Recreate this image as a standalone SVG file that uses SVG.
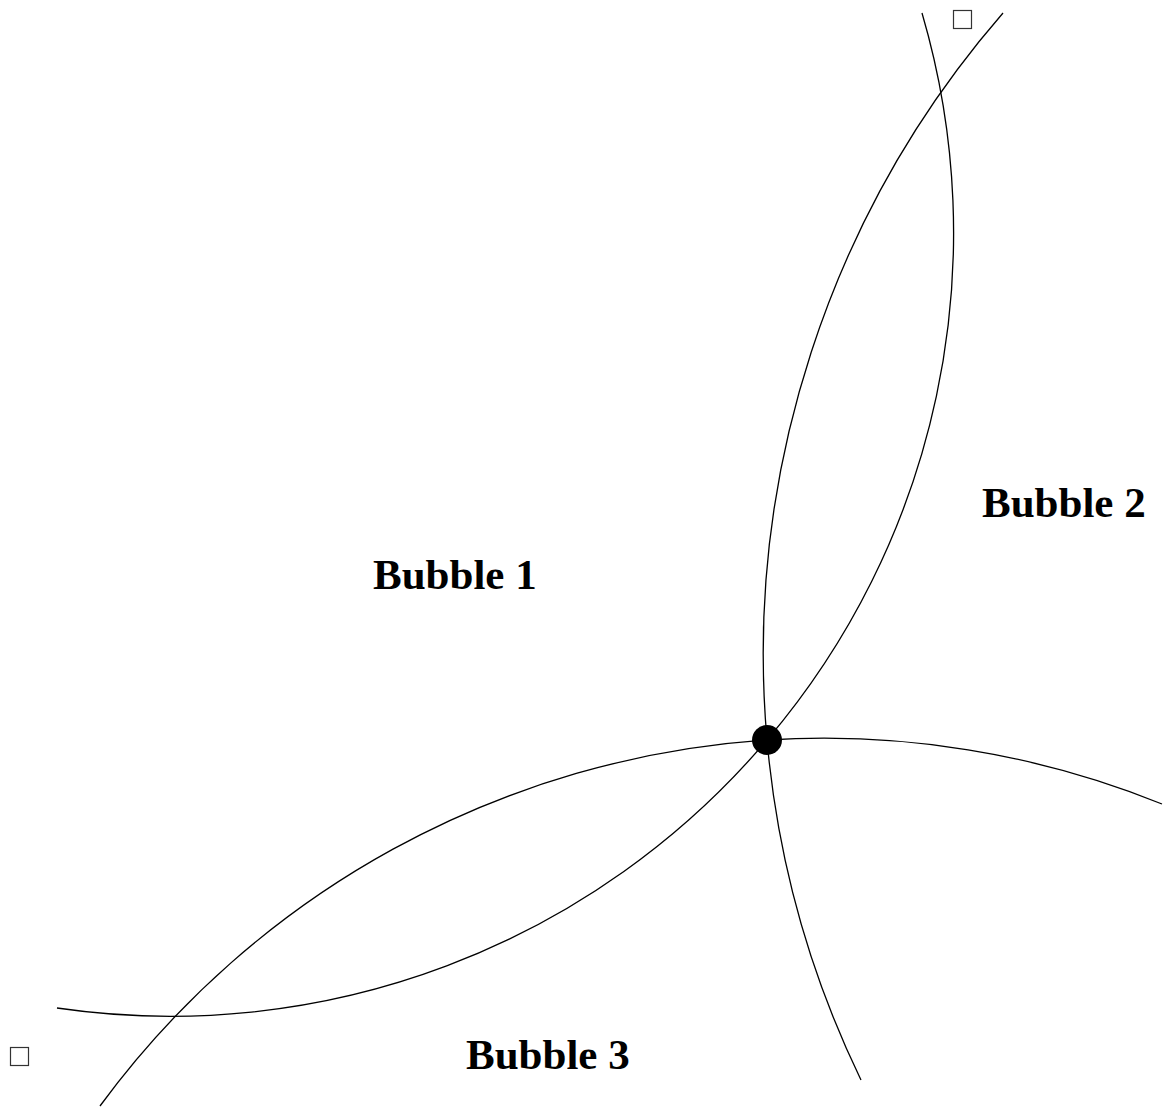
<svg xmlns="http://www.w3.org/2000/svg" width="1164" height="1110" viewBox="0 0 1164 1110">
<style>
.arc{fill:none;stroke:#000;stroke-width:1.3}
.lbl{font-family:"Liberation Serif","Times New Roman",serif;font-weight:bold;font-size:43px;fill:#000}
.sq{fill:#fff;stroke:#333;stroke-width:1.2}
</style>
<rect width="1164" height="1110" fill="#fff"/>
<g id="connectors">
<path class="arc" d="M 1003 13 A 979 979 0 0 0 767 740 A 979 979 0 0 0 861 1080"/>
<path class="arc" d="M 922 13 A 782 782 0 0 1 767 740 A 782 782 0 0 1 57 1008"/>
<path class="arc" d="M 100 1106 A 901.5 901.5 0 0 1 767 740 A 901.5 901.5 0 0 1 1162 804"/>
</g>
<g id="junction"><circle cx="767" cy="740" r="15" fill="#000"/></g>
<g id="marker-top"><rect class="sq" x="953.5" y="10.5" width="18" height="18"/></g>
<g id="marker-bottom"><rect class="sq" x="10.5" y="1047.5" width="18" height="18"/></g>
<g id="bubble1"><text class="lbl" x="373" y="589">Bubble 1</text></g>
<g id="bubble2"><text class="lbl" x="982" y="517">Bubble 2</text></g>
<g id="bubble3"><text class="lbl" x="466" y="1069">Bubble 3</text></g>
</svg>
